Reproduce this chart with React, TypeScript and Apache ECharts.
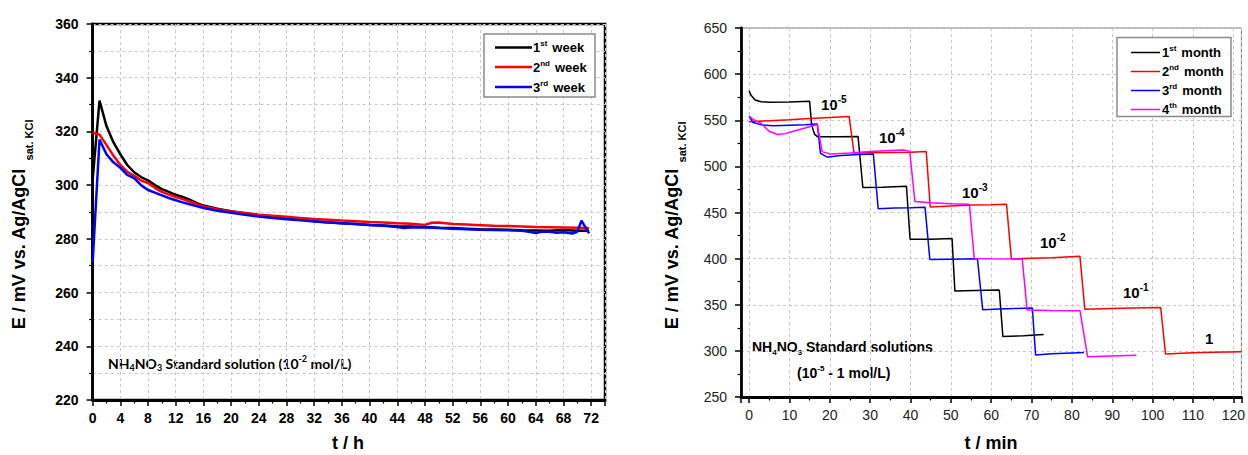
import React, { useEffect, useRef } from "react";
import * as echarts from "echarts";

// ---------- Left chart: stability over time (t / h, E / mV) ----------
const week1: [number, number][] = [
  [0, 302], [1, 331.5], [2, 322], [3, 316], [4, 311.5], [5, 307.5], [6, 304.8], [7, 303], [8, 301.8],
  [9, 300], [10, 298.5], [11, 297.5], [12, 296.4], [13, 295.6], [14, 294.6], [15, 293.4], [16, 292.4],
  [18, 291.2], [20, 290.3], [22, 289.5], [24, 288.8], [26, 288.2], [28, 287.8], [30, 287.2], [32, 286.6],
  [34, 286.2], [36, 285.8], [38, 285.5], [40, 285.2], [42, 285], [44, 284.7], [46, 284.6], [48, 284.4],
  [50, 284.1], [52, 284], [54, 283.8], [56, 283.6], [58, 283.5], [60, 283.4], [62, 283.2], [64, 283.1],
  [66, 283], [68, 283.3], [70, 283], [71.7, 283],
];
const week2: [number, number][] = [
  [0, 319.5], [1, 318.8], [2, 315], [3, 311], [4, 307.5], [5, 305], [6, 303.5], [7, 301.7], [8, 300.8],
  [9, 299], [10, 297.5], [11, 296.5], [12, 295.6], [13, 294.8], [14, 293.9], [15, 293], [16, 292.1],
  [18, 291], [20, 290.2], [22, 289.6], [24, 289], [26, 288.6], [28, 288.2], [30, 287.8], [32, 287.4],
  [34, 287.1], [36, 286.8], [38, 286.6], [40, 286.3], [42, 286.1], [44, 285.8], [46, 285.6], [48, 285.2],
  [49, 286], [50, 286.1], [52, 285.5], [54, 285.3], [56, 285.1], [58, 284.9], [60, 284.8], [62, 284.6],
  [64, 284.4], [66, 284.3], [68, 284.2], [70, 284.1], [71.7, 284],
];
const week3: [number, number][] = [
  [0, 271], [1, 317], [2, 311.5], [3, 308.5], [4, 306.5], [5, 303.8], [6, 302.6], [7, 300], [8, 298.2],
  [9, 297.2], [10, 296.2], [11, 295.2], [12, 294.4], [13, 293.6], [14, 292.9], [15, 292.2], [16, 291.5],
  [18, 290.5], [20, 289.7], [22, 289], [24, 288.3], [26, 287.8], [28, 287.3], [30, 286.9], [32, 286.5],
  [34, 286.1], [36, 285.8], [38, 285.5], [40, 285.2], [42, 284.9], [44, 284.4], [45, 284], [46, 284.2],
  [48, 284.2], [50, 284], [52, 283.8], [54, 283.6], [56, 283.4], [58, 283.3], [60, 283.2], [62, 283],
  [63, 282.6], [64, 282.2], [65, 282.7], [66, 282.6], [67, 282.3], [68, 282.5], [69.3, 282],
  [70, 282.6], [70.6, 286.8], [71.7, 282],
];

// ---------- Right chart: response to standard solutions (t / min, E / mV) ----------
const month1: [number, number][] = [
  [0, 582], [0.5, 577], [1.5, 572], [3, 570], [5, 569.5], [10, 569.8], [15, 570.5], [15.5, 545],
  [16.2, 535], [17, 532], [22, 532], [27, 532.5], [28.2, 477], [33, 477.5], [39, 478.5], [39.9, 421],
  [45, 421], [50.3, 421.8], [51, 365], [56, 365.5], [62, 366], [62.9, 315.5], [68, 316.5], [73, 317.8],
];
const month2: [number, number][] = [
  [0, 548.5], [5, 549.5], [10, 550.5], [15, 551.8], [20, 553], [24.8, 554], [26, 514.5], [30, 514.8],
  [35, 515], [40, 515.2], [43.9, 516], [44.9, 456], [50, 457], [55, 458], [60, 458.5], [63.8, 459],
  [65, 399.5], [70, 400.5], [75, 401], [82, 402.5], [83.2, 345], [90, 346], [95, 346.5], [102, 347],
  [103.2, 296.5], [110, 298], [115, 298.5], [122, 299],
];
const month3: [number, number][] = [
  [0, 554.5], [1, 547.5], [3, 545], [6, 544], [10, 544.5], [14, 545], [16.9, 546], [17.7, 514],
  [19.4, 510], [22, 511.5], [26, 512.5], [30.8, 513.3], [32, 454], [36, 455], [40, 455.2], [43.6, 455.8],
  [44.8, 399], [50, 399.3], [56.6, 399.8], [57.9, 344.5], [62, 345.5], [66, 346], [70.2, 346.5],
  [71, 295.5], [75, 296.8], [80, 297.8], [83, 298.3],
];
const month4: [number, number][] = [
  [0, 554.5], [1, 551], [3, 546.5], [5, 538], [7, 534.5], [9, 535.5], [11, 538], [13, 540.5], [15, 543],
  [16.9, 545.5], [18.1, 516], [20.2, 513.3], [25, 514.5], [30, 516.2], [35, 517.3], [38.2, 517.8],
  [39.8, 516.5], [41.1, 461.8], [45, 460.5], [50, 459.5], [54.6, 459], [55.8, 400.2], [60, 399.8],
  [67.7, 399.5], [68.9, 344.2], [75, 343.8], [82, 343.6], [83.9, 293.5], [90, 294.5], [96, 295.3],
];

const weekNames = ["1st week", "2nd week", "3rd week"];
const monthNames = ["1st month", "2nd month", "3rd month", "4th month"];
const concLabels = ["10-5", "10-4", "10-3", "10-2", "10-1", "1"];

const FONT = "'Liberation Sans', Arial, sans-serif";
const GRIDLINE = { color: "#c8c8c8", type: [3, 3] as number[], width: 1 };

function legendLabel(num: string, sup: string, word: string) {
  return `{n|${num}}{s|${sup}}{w|${word}}`;
}
const legendRich = {
  n: { fontFamily: FONT, fontSize: 13, fontWeight: "bold", color: "#000", lineHeight: 16 },
  s: { fontFamily: FONT, fontSize: 8, fontWeight: "bold", color: "#000", lineHeight: 10, verticalAlign: "top" },
  w: { fontFamily: FONT, fontSize: 13, fontWeight: "bold", color: "#000", lineHeight: 16, padding: [0, 0, 0, 5] },
};

function buildOption() {
  const weekColors = ["#000000", "#ff0000", "#0000ff"];
  const monthColors = ["#000000", "#ff0000", "#0000ff", "#ff00ff"];
  const weekData = [week1, week2, week3];
  const monthData = [month1, month2, month3, month4];

  const leftLegendRows = [47.5, 67, 87];
  const rightLegendRows = [52.5, 71.5, 90.5, 109.5];
  const concPos: [number, number][] = [[821, 104], [879, 137], [962, 192], [1040, 242], [1123, 292], [1205, 338]];

  const graphic: any[] = [
    // left legend
    { type: "rect", shape: { x: 484, y: 34, width: 111, height: 63 }, style: { fill: "#fff", stroke: "#8a8a8a", lineWidth: 1.5 }, z: 10 },
    ...weekNames.map((nm, i) => ({
      type: "line", shape: { x1: 495, y1: leftLegendRows[i], x2: 532, y2: leftLegendRows[i] },
      style: { stroke: weekColors[i], lineWidth: 2.5 }, z: 11,
    })),
    ...weekNames.map((nm, i) => ({
      type: "text", x: 533, y: leftLegendRows[i], z: 11,
      style: { text: legendLabel(nm.slice(0, 1), nm.slice(1, 3), "week"), rich: legendRich, align: "left", verticalAlign: "middle" },
    })),
    // right legend
    { type: "rect", shape: { x: 1117, y: 37.5, width: 114, height: 79 }, style: { fill: "#fff", stroke: "#8a8a8a", lineWidth: 1.5 }, z: 10 },
    ...monthNames.map((nm, i) => ({
      type: "line", shape: { x1: 1131, y1: rightLegendRows[i], x2: 1160, y2: rightLegendRows[i] },
      style: { stroke: monthColors[i], lineWidth: 1.5 }, z: 11,
    })),
    ...monthNames.map((nm, i) => ({
      type: "text", x: 1162, y: rightLegendRows[i], z: 11,
      style: { text: legendLabel(nm.slice(0, 1), nm.slice(1, 3), "month"), rich: legendRich, align: "left", verticalAlign: "middle" },
    })),
    // y-axis titles
    { type: "text", x: 19, y: 249, rotation: Math.PI / 2, style: { text: "E / mV vs. Ag/AgCl", fontFamily: FONT, fontSize: 18, fontWeight: "bold", fill: "#000", align: "center", verticalAlign: "middle" } },
    { type: "text", x: 29, y: 140, rotation: Math.PI / 2, style: { text: "sat. KCl", fontFamily: FONT, fontSize: 11, fontWeight: "bold", fill: "#000", align: "center", verticalAlign: "middle" } },
    { type: "text", x: 672, y: 249, rotation: Math.PI / 2, style: { text: "E / mV vs. Ag/AgCl", fontFamily: FONT, fontSize: 18, fontWeight: "bold", fill: "#000", align: "center", verticalAlign: "middle" } },
    { type: "text", x: 682, y: 142, rotation: Math.PI / 2, style: { text: "sat. KCl", fontFamily: FONT, fontSize: 11, fontWeight: "bold", fill: "#000", align: "center", verticalAlign: "middle" } },
    // x-axis titles
    { type: "text", x: 348, y: 443, style: { text: "t / h", fontFamily: FONT, fontSize: 18, fontWeight: "bold", fill: "#000", align: "center", verticalAlign: "middle" } },
    { type: "text", x: 991, y: 443, style: { text: "t / min", fontFamily: FONT, fontSize: 18, fontWeight: "bold", fill: "#000", align: "center", verticalAlign: "middle" } },
    // left annotation
    {
      type: "text", x: 108, y: 363,
      style: {
        text: "{b|NH}{sub|4}{b|NO}{sub|3}{b| Standard solution (10}{sup|-2}{b| mol/L)}",
        align: "left", verticalAlign: "middle",
        rich: {
          b: { fontFamily: "Lato, " + FONT, fontSize: 14, fontWeight: "bold", color: "#000", lineHeight: 18, verticalAlign: "middle" },
          sub: { fontFamily: "Lato, " + FONT, fontSize: 9, fontWeight: "bold", color: "#000", lineHeight: 9, verticalAlign: "bottom" },
          sup: { fontFamily: "Lato, " + FONT, fontSize: 9, fontWeight: "bold", color: "#000", lineHeight: 9, verticalAlign: "top" },
        },
      },
    },
    // right annotation
    {
      type: "text", x: 752, y: 347,
      style: {
        text: "{b|NH}{sub|4}{b|NO}{sub|3}{b| Standard solutions}",
        align: "left", verticalAlign: "middle",
        rich: {
          b: { fontFamily: FONT, fontSize: 14, fontWeight: "bold", color: "#000", lineHeight: 18, verticalAlign: "middle" },
          sub: { fontFamily: FONT, fontSize: 8, fontWeight: "bold", color: "#000", lineHeight: 8, verticalAlign: "bottom" },
        },
      },
    },
    {
      type: "text", x: 797, y: 373,
      style: {
        text: "{b|(10}{sup|-5}{b| - 1 mol/L)}",
        align: "left", verticalAlign: "middle",
        rich: {
          b: { fontFamily: FONT, fontSize: 14, fontWeight: "bold", color: "#000", lineHeight: 18, verticalAlign: "middle" },
          sup: { fontFamily: FONT, fontSize: 8, fontWeight: "bold", color: "#000", lineHeight: 8, verticalAlign: "top" },
        },
      },
    },
    // concentration step labels
    ...concLabels.map((c, i) => {
      const parts = c.split("-");
      const txt = parts.length > 1 ? `{b|${parts[0]}}{sup|-${parts[1]}}` : `{b|${c}}`;
      return {
        type: "text", x: concPos[i][0], y: concPos[i][1],
        style: {
          text: txt, align: "left", verticalAlign: "middle",
          rich: {
            b: { fontFamily: FONT, fontSize: 15, fontWeight: "bold", color: "#000", lineHeight: 20, verticalAlign: "middle" },
            sup: { fontFamily: FONT, fontSize: 10, fontWeight: "bold", color: "#000", lineHeight: 10, verticalAlign: "top" },
          },
        },
      };
    }),
  ];

  const tickBlack = { show: true, inside: false, length: 6, lineStyle: { color: "#000", width: 1.5 } };
  const minorBlack = { show: true, splitNumber: 2, length: 3.5, lineStyle: { color: "#000", width: 1.2 } };

  return {
    animation: false,
    backgroundColor: "#fff",
    grid: [
      { left: 92.6, top: 24, width: 512.4, height: 376, show: true, borderColor: "#000", borderWidth: 2.5, backgroundColor: "transparent" },
      { left: 741, top: 28, width: 503, height: 369, show: true, borderColor: "#777", borderWidth: 1, backgroundColor: "transparent" },
    ],
    xAxis: [
      {
        type: "value", gridIndex: 0, min: 0, max: 74, interval: 4,
        axisLine: { show: true, onZero: false, lineStyle: { color: "#000", width: 2.8 } },
        axisTick: tickBlack, minorTick: minorBlack,
        splitLine: { show: true, lineStyle: GRIDLINE },
        axisLabel: { fontFamily: FONT, fontSize: 14, fontWeight: "bold", color: "#000", margin: 11, showMaxLabel: false },
      },
      {
        type: "value", gridIndex: 1, min: -2, max: 122, splitNumber: 12, minInterval: 10, maxInterval: 10,
        axisLine: { show: true, onZero: false, lineStyle: { color: "#000", width: 2.8 } },
        axisTick: tickBlack, minorTick: minorBlack,
        splitLine: { show: true, lineStyle: GRIDLINE },
        axisLabel: {
          fontFamily: FONT, fontSize: 14, color: "#222", margin: 11, showMinLabel: false, showMaxLabel: false,
          formatter: (v: number) => (v % 10 === 0 ? String(v) : ""),
        },
      },
    ],
    yAxis: [
      {
        type: "value", gridIndex: 0, min: 220, max: 360, interval: 20,
        axisLine: { show: true, onZero: false, lineStyle: { color: "#000", width: 2.8 } },
        axisTick: tickBlack, minorTick: minorBlack,
        splitLine: { show: true, lineStyle: GRIDLINE },
        minorSplitLine: { show: true, lineStyle: GRIDLINE },
        axisLabel: { fontFamily: FONT, fontSize: 14, fontWeight: "bold", color: "#000", margin: 14 },
      },
      {
        type: "value", gridIndex: 1, min: 250, max: 650, interval: 50,
        axisLine: { show: true, onZero: false, lineStyle: { color: "#000", width: 2.8 } },
        axisTick: tickBlack, minorTick: minorBlack,
        splitLine: { show: true, lineStyle: GRIDLINE },
        axisLabel: { fontFamily: FONT, fontSize: 14, color: "#222", margin: 14 },
      },
    ],
    series: [
      ...weekData.map((d, i) => ({
        name: weekNames[i], type: "line", xAxisIndex: 0, yAxisIndex: 0, data: d,
        symbol: "none", lineStyle: { color: weekColors[i], width: 2.5 }, itemStyle: { color: weekColors[i] },
        clip: true,
      })),
      ...monthData.map((d, i) => ({
        name: monthNames[i], type: "line", xAxisIndex: 1, yAxisIndex: 1, data: d,
        symbol: "none", lineStyle: { color: monthColors[i], width: 1.5 }, itemStyle: { color: monthColors[i] },
        clip: true,
      })),
    ],
    graphic,
  };
}

export default function App() {
  const ref = useRef<HTMLDivElement>(null);
  useEffect(() => {
    if (!ref.current) return;
    const chart = echarts.init(ref.current, null, { renderer: "svg" });
    chart.setOption(buildOption() as any);
    return () => chart.dispose();
  }, []);
  return (
    <div
      ref={ref}
      style={{ position: "fixed", left: 0, top: 0, width: 1248, height: 455, background: "#fff" }}
    />
  );
}
